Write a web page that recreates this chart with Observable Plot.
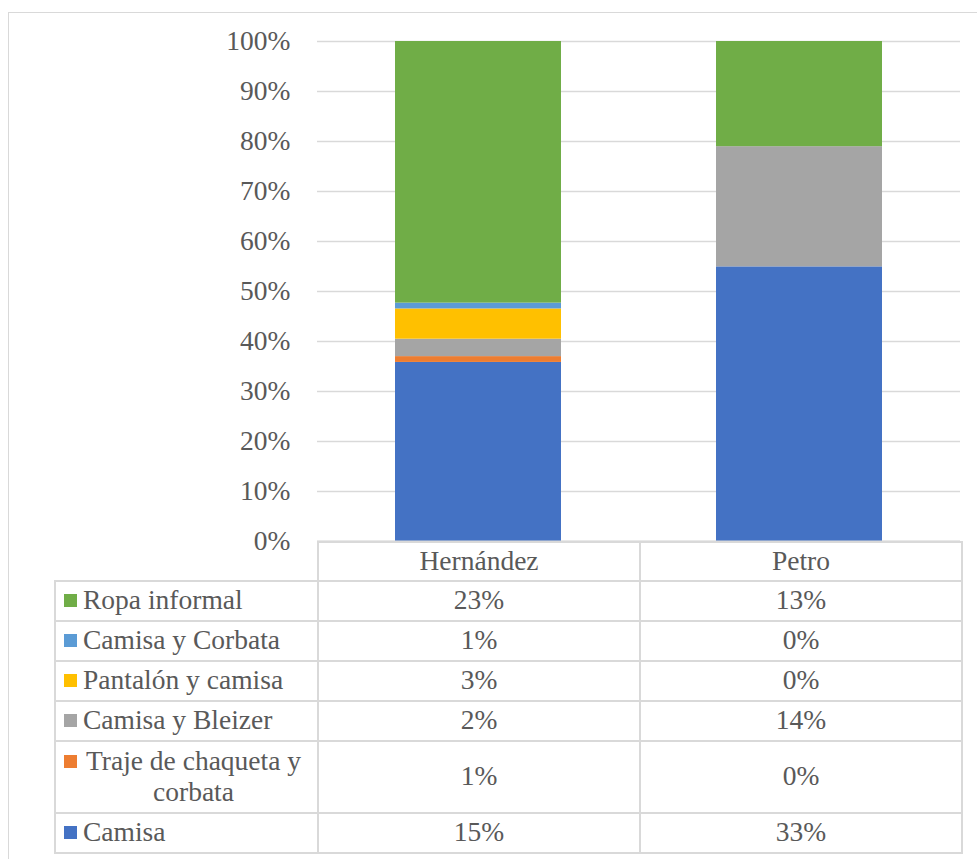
<!DOCTYPE html>
<html>
<head>
<meta charset="utf-8">
<script src="https://cdn.jsdelivr.net/npm/d3@7"></script>
<script src="https://cdn.jsdelivr.net/npm/@observablehq/plot@0.6"></script>
<style>
  html, body { margin: 0; padding: 0; background: #fff; }
  body { width: 977px; height: 859px; position: relative; overflow: hidden;
         font-family: 'Liberation Serif', 'Times New Roman', serif; color: #595959; }
  #frame { position: absolute; left: 8px; top: 12px; width: 980px; height: 860px;
           border: 1px solid #d9d9d9; box-sizing: border-box; }
  #chart { position: absolute; left: 0; top: 0; }
  #tbl { position: absolute; left: 54px; top: 541px; border-collapse: collapse;
         font-family: 'Liberation Serif', 'Times New Roman', serif;
         font-size: 27.5px; color: #595959; table-layout: fixed; }
  #tbl td { border: 2px solid #d9d9d9; text-align: center; padding: 0 0 3px 0; line-height: 31px; }
  #tbl td.blank { border-top: none; border-left: none; }
  #tbl td.leg { text-align: left; padding-left: 8px; }
  .sw { display: inline-block; width: 13px; height: 13px; vertical-align: top; margin-top: 10px; margin-right: 6px; }
  .lt { display: inline-block; text-align: center; vertical-align: top; max-width: 221px; }
</style>
</head>
<body>
<div id="frame"></div>
<div id="chart"></div>
<table id="tbl"></table>
<script>
const candidates = ["Hernández", "Petro"];
const series = ["Camisa", "Traje de chaqueta y corbata", "Camisa y Bleizer", "Pantalón y camisa", "Camisa y Corbata", "Ropa informal"];
const hernandez = [15.4, 0.5, 1.5, 2.6, 0.5, 22.5];
const petro = [32.9, 0, 14.4, 0, 0, 12.6];
const colors = ["#4472C4", "#ED7D31", "#A5A5A5", "#FFC000", "#5B9BD5", "#70AD47"];
const yTicks = [0, 0.1, 0.2, 0.3, 0.4, 0.5, 0.6, 0.7, 0.8, 0.9, 1];

const valuesBy = {"Hernández": hernandez, "Petro": petro};
const data = [];
candidates.forEach(c => series.forEach((s, i) => data.push({candidate: c, series: s, value: valuesBy[c][i]})));

const FONT = "'Liberation Serif', 'Times New Roman', serif";
const chart = Plot.plot({
  width: 977,
  height: 565,
  marginLeft: 317,
  marginRight: 17,
  marginTop: 41,
  marginBottom: 24,
  style: {fontFamily: FONT, fontSize: "27.5px", color: "#595959", background: "transparent"},
  x: {domain: candidates, paddingInner: 0.484, paddingOuter: 0.242, axis: null},
  y: {domain: [0, 1], ticks: yTicks, tickFormat: d => Math.round(d * 100) + "%", label: null, tickSize: 0, tickPadding: 27},
  color: {domain: series, range: colors},
  marks: [
    Plot.gridY(yTicks, {stroke: "#d9d9d9", strokeOpacity: 1, strokeWidth: 1.5}),
    Plot.barY(data, Plot.stackY({offset: "normalize", order: null}, {x: "candidate", y: "value", fill: "series", z: "series"})),
    Plot.ruleY([0], {stroke: "#d9d9d9", strokeWidth: 2})
  ]
});
chart.querySelectorAll("text").forEach(t => { t.setAttribute("fill", "#595959"); t.style.fontFamily = FONT; t.style.fontSize = "27.5px"; });
document.getElementById("chart").appendChild(chart);

// data table below the chart
const tbl = document.getElementById("tbl");
const colg = document.createElement("colgroup");
[263, 322, 322].forEach(w => { const c = document.createElement("col"); c.style.width = w + "px"; colg.appendChild(c); });
tbl.appendChild(colg);
const head = document.createElement("tr");
head.style.height = "39px";
const blank = document.createElement("td"); blank.className = "blank"; head.appendChild(blank);
candidates.forEach(c => { const td = document.createElement("td"); td.textContent = c; head.appendChild(td); });
tbl.appendChild(head);
for (let i = series.length - 1; i >= 0; i--) {
  const tr = document.createElement("tr");
  tr.style.height = series[i].length > 20 ? "72px" : "40px";
  const lg = document.createElement("td"); lg.className = "leg";
  const sw = document.createElement("span"); sw.className = "sw"; sw.style.background = colors[i];
  const lt = document.createElement("span"); lt.className = "lt"; lt.textContent = series[i];
  lg.appendChild(sw); lg.appendChild(lt); tr.appendChild(lg);
  candidates.forEach(c => { const td = document.createElement("td"); td.textContent = Math.round(valuesBy[c][i]) + "%"; tr.appendChild(td); });
  tbl.appendChild(tr);
}
</script>
</body>
</html>
